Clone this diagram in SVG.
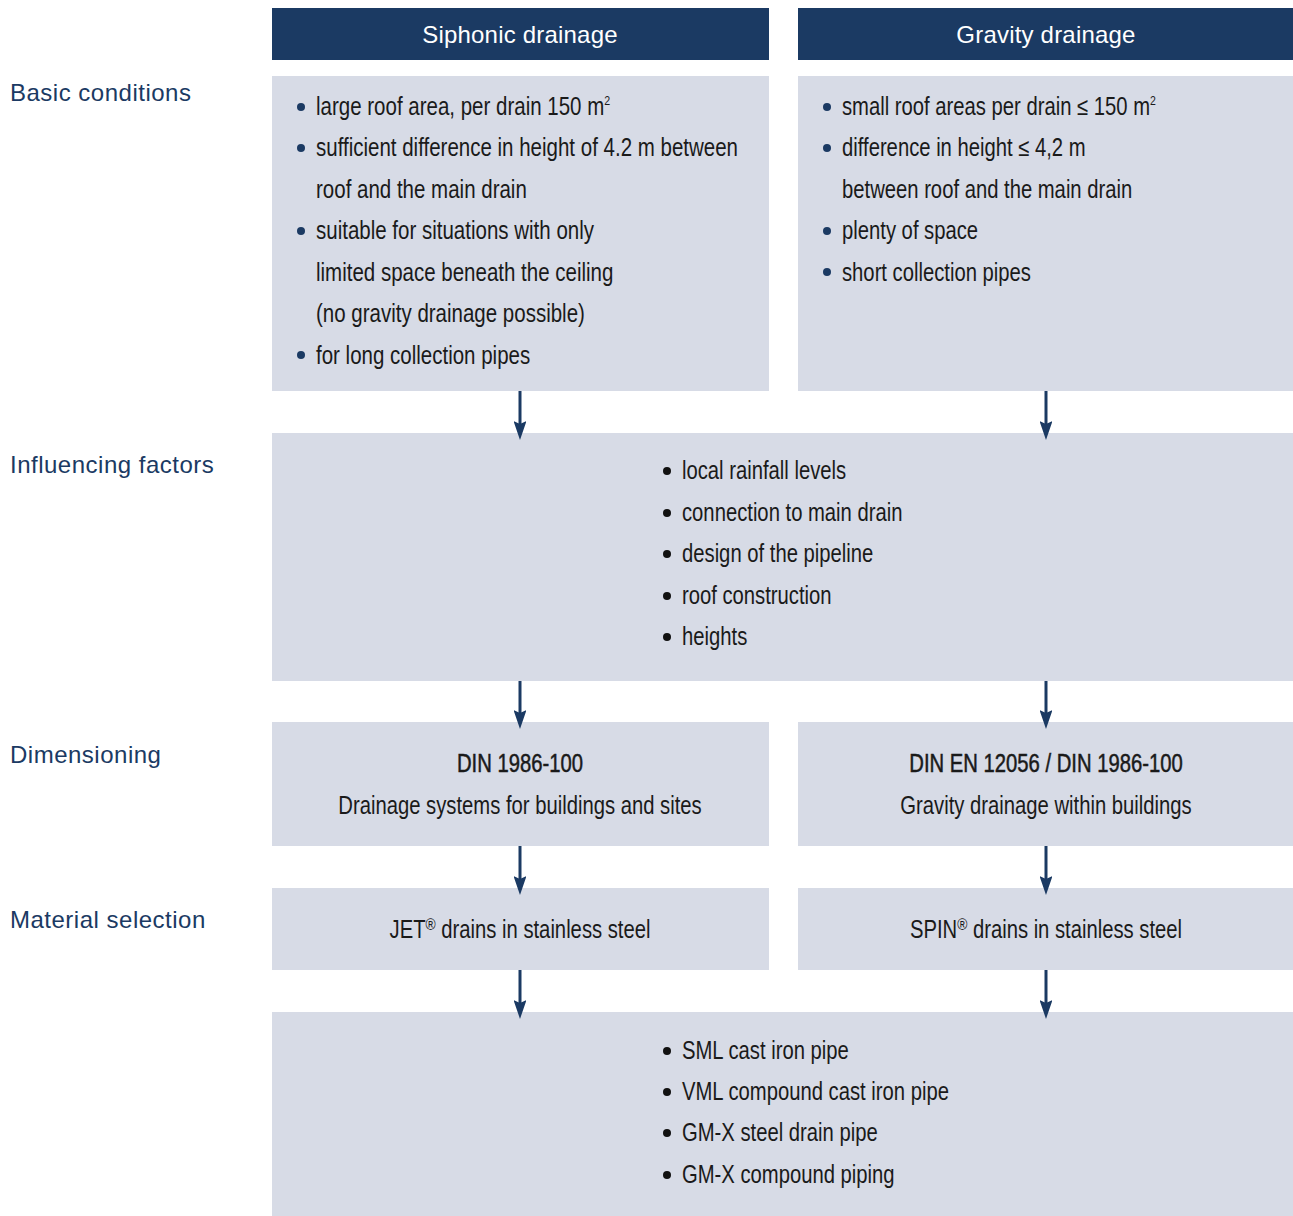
<svg xmlns="http://www.w3.org/2000/svg" width="1293" height="1216" viewBox="0 0 1293 1216">
<defs>
<style>
.hdr{fill:#1b3a63}
.box{fill:#d7dbe6}
.ht{font-family:"Liberation Sans",Arial,sans-serif;font-size:24px;fill:#fff;text-anchor:middle;letter-spacing:0.2px}
.lbl{font-family:"Liberation Sans",Arial,sans-serif;font-size:24px;fill:#1b3a63;letter-spacing:0.5px}
.t{font-family:"Liberation Sans",Arial,sans-serif;font-size:25px;fill:#1a1a1a}
.c{text-anchor:middle}
.m{stroke:#1a1a1a;stroke-width:0.5}
.bb{fill:#1b3a63}
.bk{fill:#111}
.sup{font-size:13px}
.reg{font-size:17px}
.conn line{stroke:#1b3a63;stroke-width:3}
</style>
<marker id="ah" viewBox="0 0 19 13" refX="9" refY="6.5" markerWidth="6.33" markerHeight="4.33" markerUnits="strokeWidth" orient="auto">
<path d="M0,0 L19,6.5 L0,13 L3,6.5 z" fill="#1b3a63"/>
</marker>
</defs>
<rect width="1293" height="1216" fill="#fff"/>
<g id="labels">
<text class="lbl" x="10" y="101">Basic conditions</text>
<text class="lbl" x="10" y="473">Influencing factors</text>
<text class="lbl" x="10" y="763">Dimensioning</text>
<text class="lbl" x="10" y="928">Material selection</text>
</g>
<g id="hdr-siphonic">
<rect class="hdr" x="272" y="8" width="497" height="52"/>
<text class="ht" x="520" y="43">Siphonic drainage</text>
</g>
<g id="hdr-gravity">
<rect class="hdr" x="798" y="8" width="495" height="52"/>
<text class="ht" x="1046" y="43">Gravity drainage</text>
</g>
<g id="basic-siphonic">
<rect class="box" x="272" y="76" width="497" height="315"/>
<circle class="bb" cx="301" cy="107" r="4"/>
<circle class="bb" cx="301" cy="148" r="4"/>
<circle class="bb" cx="301" cy="231" r="4"/>
<circle class="bb" cx="301" cy="355" r="4"/>
<text class="t" transform="translate(316,115) scale(0.82,1)">large roof area, per drain 150 m<tspan class="sup" dy="-10">2</tspan></text>
<text class="t" transform="translate(316,156) scale(0.82,1)">sufficient difference in height of 4.2 m between</text>
<text class="t" transform="translate(316,198) scale(0.82,1)">roof and the main drain</text>
<text class="t" transform="translate(316,239) scale(0.82,1)">suitable for situations with only</text>
<text class="t" transform="translate(316,281) scale(0.82,1)">limited space beneath the ceiling</text>
<text class="t" transform="translate(316,322) scale(0.82,1)">(no gravity drainage possible)</text>
<text class="t" transform="translate(316,364) scale(0.82,1)">for long collection pipes</text>
</g>
<g id="basic-gravity">
<rect class="box" x="798" y="76" width="495" height="315"/>
<circle class="bb" cx="827" cy="107" r="4"/>
<circle class="bb" cx="827" cy="148" r="4"/>
<circle class="bb" cx="827" cy="231" r="4"/>
<circle class="bb" cx="827" cy="272" r="4"/>
<text class="t" transform="translate(842,115) scale(0.81,1)">small roof areas per drain ≤ 150 m<tspan class="sup" dy="-10">2</tspan></text>
<text class="t" transform="translate(842,156) scale(0.81,1)">difference in height ≤ 4,2 m</text>
<text class="t" transform="translate(842,198) scale(0.81,1)">between roof and the main drain</text>
<text class="t" transform="translate(842,239) scale(0.81,1)">plenty of space</text>
<text class="t" transform="translate(842,281) scale(0.81,1)">short collection pipes</text>
</g>
<g id="influencing">
<rect class="box" x="272" y="433" width="1021" height="248"/>
<circle class="bk" cx="667" cy="471" r="4"/>
<circle class="bk" cx="667" cy="513" r="4"/>
<circle class="bk" cx="667" cy="554" r="4"/>
<circle class="bk" cx="667" cy="596" r="4"/>
<circle class="bk" cx="667" cy="637" r="4"/>
<text class="t" transform="translate(682,479) scale(0.81,1)">local rainfall levels</text>
<text class="t" transform="translate(682,521) scale(0.81,1)">connection to main drain</text>
<text class="t" transform="translate(682,562) scale(0.81,1)">design of the pipeline</text>
<text class="t" transform="translate(682,604) scale(0.81,1)">roof construction</text>
<text class="t" transform="translate(682,645) scale(0.81,1)">heights</text>
</g>
<g id="dim-siphonic">
<rect class="box" x="272" y="722" width="497" height="124"/>
<text class="t c m" transform="translate(520,772) scale(0.81,1)">DIN 1986-100</text>
<text class="t c" transform="translate(520,814) scale(0.81,1)">Drainage systems for buildings and sites</text>
</g>
<g id="dim-gravity">
<rect class="box" x="798" y="722" width="495" height="124"/>
<text class="t c m" transform="translate(1046,772) scale(0.81,1)">DIN EN 12056 / DIN 1986-100</text>
<text class="t c" transform="translate(1046,814) scale(0.81,1)">Gravity drainage within buildings</text>
</g>
<g id="mat-siphonic">
<rect class="box" x="272" y="888" width="497" height="82"/>
<text class="t c" transform="translate(520,938) scale(0.81,1)">JET<tspan class="reg" dy="-8">®</tspan><tspan dy="8"> drains in stainless steel</tspan></text>
</g>
<g id="mat-gravity">
<rect class="box" x="798" y="888" width="495" height="82"/>
<text class="t c" transform="translate(1046,938) scale(0.81,1)">SPIN<tspan class="reg" dy="-8">®</tspan><tspan dy="8"> drains in stainless steel</tspan></text>
</g>
<g id="pipes">
<rect class="box" x="272" y="1012" width="1021" height="204"/>
<circle class="bk" cx="667" cy="1051" r="4"/>
<circle class="bk" cx="667" cy="1092" r="4"/>
<circle class="bk" cx="667" cy="1133" r="4"/>
<circle class="bk" cx="667" cy="1175" r="4"/>
<text class="t" transform="translate(682,1059) scale(0.81,1)">SML cast iron pipe</text>
<text class="t" transform="translate(682,1100) scale(0.81,1)">VML compound cast iron pipe</text>
<text class="t" transform="translate(682,1141) scale(0.81,1)">GM-X steel drain pipe</text>
<text class="t" transform="translate(682,1183) scale(0.81,1)">GM-X compound piping</text>
</g>
<g id="connectors" class="conn">
<line x1="520" y1="391" x2="520" y2="430" marker-end="url(#ah)"/>
<line x1="1046" y1="391" x2="1046" y2="430" marker-end="url(#ah)"/>
<line x1="520" y1="681" x2="520" y2="719" marker-end="url(#ah)"/>
<line x1="1046" y1="681" x2="1046" y2="719" marker-end="url(#ah)"/>
<line x1="520" y1="846" x2="520" y2="885" marker-end="url(#ah)"/>
<line x1="1046" y1="846" x2="1046" y2="885" marker-end="url(#ah)"/>
<line x1="520" y1="970" x2="520" y2="1009" marker-end="url(#ah)"/>
<line x1="1046" y1="970" x2="1046" y2="1009" marker-end="url(#ah)"/>
</g>
</svg>
